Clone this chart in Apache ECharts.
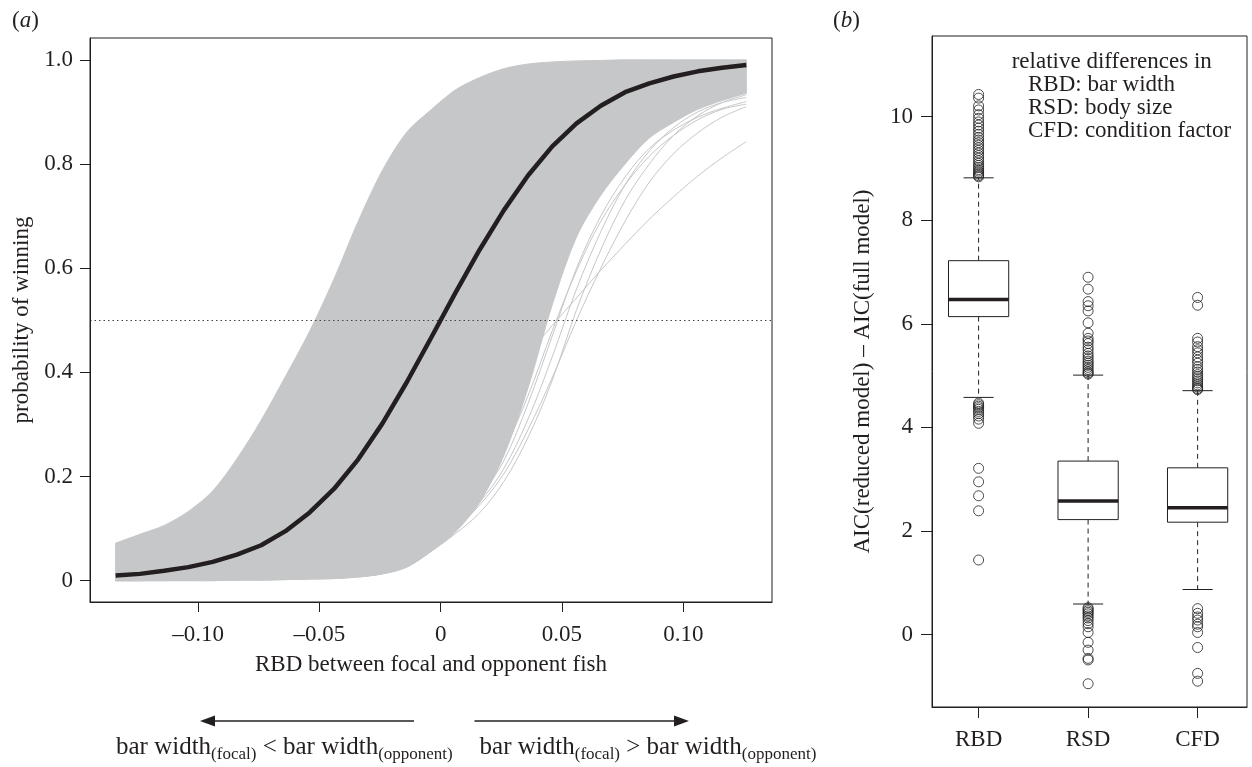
<!DOCTYPE html>
<html>
<head>
<meta charset="utf-8">
<script src="https://cdn.jsdelivr.net/npm/echarts@6/dist/echarts.min.js"></script>
<style>
html,body{margin:0;padding:0;background:#ffffff;}
#chart{width:1252px;height:767px;}
</style>
</head>
<body>
<div id="chart"></div>
<script>
// ---------- Panel (a) data ----------
const xGrid = [-0.134,-0.124,-0.114,-0.104,-0.094,-0.084,-0.074,-0.064,-0.054,-0.044,-0.034,-0.024,-0.014,-0.004,0.006,0.016,0.026,0.036,0.046,0.056,0.066,0.076,0.086,0.096,0.106,0.116,0.126];
const meanCurve = [0.010,0.013,0.019,0.026,0.036,0.050,0.068,0.095,0.131,0.176,0.233,0.302,0.381,0.466,0.552,0.635,0.711,0.778,0.834,0.878,0.912,0.938,0.955,0.968,0.978,0.985,0.990];
const bandUpper = [0.072,0.089,0.106,0.133,0.172,0.234,0.308,0.392,0.479,0.579,0.690,0.788,0.861,0.904,0.942,0.966,0.983,0.992,0.996,0.998,0.999,1.0,1.0,1.0,1.0,1.0,1.0];
const bandLower = [0,0,0,0,0,0.001,0.001,0.002,0.003,0.004,0.007,0.013,0.026,0.056,0.093,0.15,0.24,0.37,0.53,0.66,0.74,0.80,0.85,0.88,0.905,0.922,0.936];
const edgeCurve1 = [0,0,0,0,0,0.001,0.001,0.002,0.003,0.004,0.007,0.013,0.026,0.056,0.09,0.13,0.19,0.275,0.385,0.52,0.635,0.73,0.80,0.855,0.893,0.918,0.933];
const edgeCurve2 = [0,0,0,0.001,0.001,0.002,0.003,0.004,0.006,0.009,0.014,0.022,0.035,0.06,0.10,0.15,0.215,0.31,0.43,0.56,0.67,0.76,0.825,0.87,0.90,0.918,0.928];
const edgeCurve3 = [0,0,0.001,0.001,0.002,0.003,0.004,0.006,0.009,0.013,0.019,0.028,0.042,0.065,0.105,0.16,0.23,0.34,0.47,0.60,0.70,0.775,0.83,0.865,0.89,0.907,0.92];
const edgeCurve4 = [0,0.001,0.001,0.002,0.003,0.004,0.006,0.008,0.012,0.017,0.024,0.034,0.048,0.07,0.10,0.145,0.205,0.29,0.39,0.50,0.60,0.69,0.765,0.82,0.86,0.89,0.91];
const edgeCurve5 = [0,0,0.001,0.001,0.002,0.003,0.005,0.007,0.010,0.015,0.022,0.032,0.047,0.072,0.11,0.17,0.25,0.355,0.48,0.595,0.69,0.76,0.815,0.855,0.885,0.905,0.915];
const edgeCurve6 = [0.020,0.024,0.030,0.037,0.045,0.055,0.068,0.082,0.100,0.121,0.147,0.175,0.209,0.246,0.289,0.334,0.384,0.435,0.49,0.543,0.596,0.646,0.694,0.737,0.777,0.812,0.843];
const aXTicks = [-0.10,-0.05,0,0.05,0.10];
const aXTickLabels = ['\u20130.10','\u20130.05','0','0.05','0.10'];
const aYTicks = [0,0.2,0.4,0.6,0.8,1.0];
const aYTickLabels = ['0','0.2','0.4','0.6','0.8','1.0'];
const refLevel = 0.5;

// ---------- Panel (b) data ----------
const boxCats = ['RBD','RSD','CFD'];
const boxPos = [1,2,3];
const boxLow = [4.58,0.59,0.87];
const boxQ1 = [6.14,2.22,2.17];
const boxMed = [6.47,2.58,2.45];
const boxQ3 = [7.22,3.35,3.22];
const boxHigh = [8.82,5.01,4.71];
const rbdOut = [10.43,10.36,10.21,10.13,10.04,9.97,9.9,9.84,9.78,9.72,9.66,9.6,9.55,9.5,9.45,9.4,9.35,9.3,9.25,9.2,9.15,9.1,9.06,9.02,8.98,8.95,8.92,8.89,8.86,8.84,4.47,4.44,4.41,4.38,4.35,4.31,4.27,4.22,4.16,4.08,3.21,2.95,2.68,2.39,1.44];
const rsdOut = [6.90,6.67,6.43,6.35,6.25,6.02,5.82,5.72,5.67,5.62,5.55,5.5,5.43,5.38,5.33,5.28,5.24,5.2,5.16,5.12,5.08,5.05,5.03,0.52,0.49,0.46,0.43,0.40,0.36,0.32,0.27,0.21,0.15,0.04,-0.15,-0.30,-0.46,-0.49,-0.95];
const cfdOut = [6.51,6.36,5.72,5.65,5.56,5.5,5.44,5.36,5.3,5.24,5.17,5.12,5.07,5.02,4.98,4.94,4.9,4.86,4.82,4.78,4.75,4.73,0.50,0.41,0.34,0.28,0.2,0.15,0.04,-0.25,-0.75,-0.90];
const bYTicks = [0,2,4,6,8,10];
const bYTickLabels = ['0','2','4','6','8','10'];
const legendLines = ['relative differences in','RBD: bar width','RSD: body size','CFD: condition factor'];

// ---------- styling ----------
const INK = '#231f20';
const GREY = '#c6c7c9';
const FONT = 'Liberation Serif';
const FS = 23;
const BOX_W = 0.55;

function lookup(ticks, labels){
  return function(v){
    for (let i=0;i<ticks.length;i++){ if (Math.abs(v - ticks[i]) < 1e-9) return labels[i]; }
    return '';
  };
}
function pairs(xs, ys){ return xs.map((x,i)=>[x, ys[i]]); }

const edgeCurves = [edgeCurve1, edgeCurve2, edgeCurve3, edgeCurve4, edgeCurve5, edgeCurve6];

const series = [];
// grey band of bootstrapped curves (one filled shape between the envelopes)
series.push({
  type:'custom', xAxisIndex:0, yAxisIndex:0, z:1, silent:true,
  data:[[xGrid[0], bandUpper[0]]],
  renderItem:function(params, api){
    const up = xGrid.map((x,i)=>api.coord([x, bandUpper[i]]));
    const lo = xGrid.map((x,i)=>api.coord([x, bandLower[i]])).reverse();
    // corner points are repeated so the smoothing keeps the short vertical ends straight
    const pts = [up[0]].concat(up, [up[up.length-1]], [lo[0]], lo, [lo[lo.length-1]]);
    return {type:'polygon', shape:{points:pts, smooth:0.3}, style:{fill:GREY, stroke:GREY, lineWidth:1}};
  }
});
edgeCurves.forEach(function(c){
  series.push({type:'line', xAxisIndex:0, yAxisIndex:0, z:2, silent:true, symbol:'none', smooth:0.35,
    data:pairs(xGrid, c), lineStyle:{color:GREY, width:1}});
});
// mean curve + reference line
series.push({
  type:'line', xAxisIndex:0, yAxisIndex:0, z:4, silent:true, symbol:'none',
  data:pairs(xGrid, meanCurve), lineStyle:{color:INK, width:4.5},
  markLine:{silent:true, symbol:'none', label:{show:false}, z:3,
    lineStyle:{color:'#444', type:[1.5,3], width:1}, data:[{yAxis:refLevel}]}
});
// boxes
series.push({
  type:'custom', xAxisIndex:1, yAxisIndex:1, z:2, silent:true,
  data: boxPos.map((p,i)=>[p, boxLow[i], boxQ1[i], boxMed[i], boxQ3[i], boxHigh[i]]),
  renderItem:function(params, api){
    const x = api.value(0);
    const c = v => api.coord([x, v]);
    const hw = api.size([BOX_W, 0])[0]/2;
    const cw = hw/2;
    const lo=c(api.value(1)), q1=c(api.value(2)), md=c(api.value(3)), q3=c(api.value(4)), hi=c(api.value(5));
    const cx = lo[0];
    return {type:'group', children:[
      {type:'line', shape:{x1:cx,y1:q3[1],x2:cx,y2:hi[1]}, style:{stroke:INK,lineWidth:1,lineDash:[5,4]}},
      {type:'line', shape:{x1:cx,y1:q1[1],x2:cx,y2:lo[1]}, style:{stroke:INK,lineWidth:1,lineDash:[5,4]}},
      {type:'line', shape:{x1:cx-cw,y1:hi[1],x2:cx+cw,y2:hi[1]}, style:{stroke:INK,lineWidth:1}},
      {type:'line', shape:{x1:cx-cw,y1:lo[1],x2:cx+cw,y2:lo[1]}, style:{stroke:INK,lineWidth:1}},
      {type:'rect', shape:{x:cx-hw,y:q3[1],width:2*hw,height:q1[1]-q3[1]}, style:{fill:'#ffffff',stroke:INK,lineWidth:1}},
      {type:'line', shape:{x1:cx-hw,y1:md[1],x2:cx+hw,y2:md[1]}, style:{stroke:INK,lineWidth:3.5}}
    ]};
  }
});
// outliers
series.push({
  type:'scatter', xAxisIndex:1, yAxisIndex:1, z:3, silent:true,
  symbol:'circle', symbolSize:10,
  itemStyle:{color:'rgba(0,0,0,0)', borderColor:INK, borderWidth:1},
  data:[].concat(rbdOut.map(v=>[boxPos[0],v]), rsdOut.map(v=>[boxPos[1],v]), cfdOut.map(v=>[boxPos[2],v]))
});

// annotation text pieces (measured with canvas so pieces sit side by side)
const mctx = document.createElement('canvas').getContext('2d');
function tw(t, size){ mctx.font = size + 'px "' + FONT + '"'; return mctx.measureText(t).width; }
function phrase(x0, parts){
  const out = []; let x = x0;
  parts.forEach(function(p){
    out.push({type:'text', x:x, y:p[2], style:{text:p[0], fontSize:p[1], fontFamily:FONT, fill:INK, align:'left', verticalAlign:'middle'}});
    x += tw(p[0], p[1]);
  });
  return out;
}
const graphics = [];
graphics.push({type:'text', x:12, y:21, style:{text:'{n|(}{i|a}{n|)}', verticalAlign:'middle',
  rich:{n:{fontSize:FS,fontFamily:FONT,fill:INK}, i:{fontSize:FS,fontFamily:FONT,fontStyle:'italic',fill:INK}}}});
graphics.push({type:'text', x:833, y:21, style:{text:'{n|(}{i|b}{n|)}', verticalAlign:'middle',
  rich:{n:{fontSize:FS,fontFamily:FONT,fill:INK}, i:{fontSize:FS,fontFamily:FONT,fontStyle:'italic',fill:INK}}}});
legendLines.forEach(function(t,i){
  graphics.push({type:'text', x: i===0 ? 1011.7 : 1028, y: 62 + i*23, style:{text:t, fontSize:FS, fontFamily:FONT, fill:INK, align:'left', verticalAlign:'middle'}});
});
// arrows
graphics.push({type:'line', shape:{x1:208,y1:721,x2:414,y2:721}, style:{stroke:INK,lineWidth:1.5}});
graphics.push({type:'polygon', shape:{points:[[200,721],[215,715.5],[215,726.5]]}, style:{fill:INK}});
graphics.push({type:'line', shape:{x1:474.5,y1:721,x2:681,y2:721}, style:{stroke:INK,lineWidth:1.5}});
graphics.push({type:'polygon', shape:{points:[[689,721],[674,715.5],[674,726.5]]}, style:{fill:INK}});
phrase(116, [['bar width',25,747],['(focal)',17,754.3],[' < bar width',25,747],['(opponent)',17,754.3]]).forEach(g=>graphics.push(g));
phrase(479.6, [['bar width',25,747],['(focal)',17,754.3],[' > bar width',25,747],['(opponent)',17,754.3]]).forEach(g=>graphics.push(g));

const axisText = {fontSize:FS, color:INK, fontFamily:FONT};
const axLine = {show:true, onZero:false, lineStyle:{color:INK, width:1}};

const option = {
  animation:false,
  backgroundColor:'#ffffff',
  textStyle:{fontFamily:FONT, color:INK},
  grid:[
    {left:90, top:38, width:682, height:564, show:true, borderColor:INK, borderWidth:1, backgroundColor:'transparent', containLabel:false, outerBoundsMode:'none'},
    {left:932, top:36, width:315, height:671, show:true, borderColor:INK, borderWidth:1, backgroundColor:'transparent', containLabel:false, outerBoundsMode:'none'}
  ],
  xAxis:[
    {gridIndex:0, type:'value', min:-0.14456, max:0.13657, z:10,
     axisLine:axLine,
     axisTick:{show:true, inside:false, length:10, customValues:aXTicks, lineStyle:{color:INK, width:1}},
     axisLabel:Object.assign({customValues:aXTicks, formatter:lookup(aXTicks, aXTickLabels), margin:21}, axisText),
     splitLine:{show:false},
     name:'RBD between focal and opponent fish', nameLocation:'middle', nameGap:51, nameTextStyle:axisText},
    {gridIndex:1, type:'value', min:0.5744, max:3.451, z:10,
     axisLine:axLine,
     axisTick:{show:true, inside:false, length:11, customValues:boxPos, lineStyle:{color:INK, width:1}},
     axisLabel:Object.assign({customValues:boxPos, formatter:lookup(boxPos, boxCats), margin:21}, axisText),
     splitLine:{show:false}}
  ],
  yAxis:[
    {gridIndex:0, type:'value', min:-0.041, max:1.042, z:10,
     axisLine:axLine,
     axisTick:{show:true, inside:false, length:10, customValues:aYTicks, lineStyle:{color:INK, width:1}},
     axisLabel:Object.assign({customValues:aYTicks, formatter:lookup(aYTicks, aYTickLabels), margin:17}, axisText),
     splitLine:{show:false},
     name:'probability of winning', nameLocation:'middle', nameRotate:90, nameGap:55, nameTextStyle:axisText},
    {gridIndex:1, type:'value', min:-1.399, max:11.559, z:10,
     axisLine:axLine,
     axisTick:{show:true, inside:false, length:11, customValues:bYTicks, lineStyle:{color:INK, width:1}},
     axisLabel:Object.assign({customValues:bYTicks, formatter:lookup(bYTicks, bYTickLabels), margin:19}, axisText),
     splitLine:{show:false},
     name:'AIC(reduced model) \u2013 AIC(full model)', nameLocation:'middle', nameRotate:90, nameGap:58, nameTextStyle:axisText}
  ],
  series:series,
  graphic:graphics
};

const chart = echarts.init(document.getElementById('chart'), null, {renderer:'canvas'});
chart.setOption(option);
</script>
</body>
</html>
